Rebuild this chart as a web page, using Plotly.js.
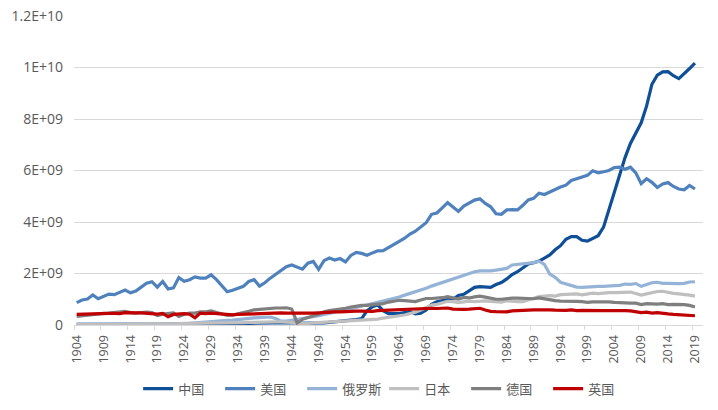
<!DOCTYPE html>
<html>
<head>
<meta charset="utf-8">
<script src="https://cdn.plot.ly/plotly-3.0.1.min.js"></script>
<style>html,body{margin:0;padding:0;background:#fff;}#chart{width:718px;height:410px;}</style>
</head>
<body>
<div id="chart"></div>
<script>
const years = [1904,1905,1906,1907,1908,1909,1910,1911,1912,1913,1914,1915,1916,1917,1918,1919,1920,1921,1922,1923,1924,1925,1926,1927,1928,1929,1930,1931,1932,1933,1934,1935,1936,1937,1938,1939,1940,1941,1942,1943,1944,1945,1946,1947,1948,1949,1950,1951,1952,1953,1954,1955,1956,1957,1958,1959,1960,1961,1962,1963,1964,1965,1966,1967,1968,1969,1970,1971,1972,1973,1974,1975,1976,1977,1978,1979,1980,1981,1982,1983,1984,1985,1986,1987,1988,1989,1990,1991,1992,1993,1994,1995,1996,1997,1998,1999,2000,2001,2002,2003,2004,2005,2006,2007,2008,2009,2010,2011,2012,2013,2014,2015,2016,2017,2018,2019];

// values in billions of tonnes (×1e9)
const china = [0.005,0.006,0.007,0.008,0.009,0.010,0.011,0.012,0.013,0.015,
0.016,0.017,0.018,0.019,0.020,0.022,0.024,0.025,0.027,0.029,
0.031,0.033,0.035,0.037,0.040,0.042,0.045,0.047,0.050,0.052,
0.055,0.060,0.065,0.070,0.075,0.080,0.090,0.100,0.100,0.100,
0.090,0.060,0.060,0.060,0.070,0.070,0.080,0.100,0.130,0.140,
0.170,0.190,0.210,0.250,0.550,0.710,0.780,0.550,0.440,0.440,
0.440,0.480,0.520,0.430,0.460,0.580,0.800,0.900,0.950,0.990,
1.000,1.150,1.190,1.320,1.460,1.490,1.470,1.460,1.570,1.650,
1.790,1.960,2.070,2.220,2.370,2.420,2.480,2.600,2.720,2.920,
3.080,3.330,3.430,3.430,3.290,3.260,3.350,3.470,3.800,4.480,
5.200,5.900,6.500,7.050,7.450,7.850,8.500,9.350,9.700,9.830,
9.840,9.680,9.570,9.750,9.960,10.170];

const usa = [0.87,0.97,1.01,1.17,1.02,1.12,1.20,1.18,1.27,1.36,
1.25,1.32,1.47,1.62,1.68,1.47,1.69,1.40,1.44,1.84,
1.70,1.76,1.87,1.82,1.82,1.95,1.76,1.52,1.29,1.35,
1.44,1.50,1.69,1.76,1.51,1.64,1.82,1.97,2.09,2.26,
2.33,2.24,2.17,2.40,2.47,2.16,2.50,2.60,2.52,2.58,
2.45,2.70,2.82,2.78,2.71,2.80,2.88,2.89,3.00,3.13,
3.25,3.37,3.53,3.64,3.80,3.97,4.30,4.35,4.55,4.75,
4.58,4.41,4.62,4.74,4.85,4.90,4.72,4.59,4.32,4.30,
4.47,4.48,4.47,4.65,4.86,4.92,5.12,5.07,5.17,5.27,
5.36,5.43,5.61,5.68,5.73,5.81,5.99,5.91,5.95,6.00,
6.11,6.13,6.05,6.13,5.91,5.49,5.68,5.54,5.34,5.48,
5.53,5.38,5.28,5.25,5.42,5.28];

const russia = [0.04,0.04,0.05,0.05,0.05,0.05,0.05,0.06,0.06,0.07,
0.07,0.07,0.07,0.05,0.02,0.02,0.02,0.03,0.03,0.04,
0.05,0.06,0.08,0.09,0.10,0.12,0.15,0.17,0.18,0.19,
0.22,0.25,0.27,0.28,0.29,0.30,0.31,0.25,0.15,0.15,
0.18,0.20,0.24,0.28,0.32,0.36,0.40,0.44,0.48,0.52,
0.57,0.63,0.68,0.73,0.78,0.83,0.88,0.91,0.96,1.03,
1.09,1.16,1.22,1.29,1.36,1.43,1.51,1.58,1.66,1.73,
1.80,1.88,1.95,2.01,2.07,2.10,2.09,2.10,2.13,2.16,
2.20,2.33,2.35,2.37,2.40,2.42,2.48,2.35,1.98,1.85,
1.66,1.60,1.56,1.47,1.46,1.48,1.49,1.50,1.50,1.53,
1.53,1.54,1.59,1.58,1.61,1.50,1.58,1.64,1.66,1.62,
1.62,1.60,1.61,1.62,1.67,1.68];

const japan = [0.02,0.02,0.02,0.03,0.03,0.03,0.03,0.03,0.04,0.04,
0.04,0.04,0.04,0.05,0.05,0.05,0.05,0.05,0.05,0.05,
0.06,0.06,0.06,0.06,0.07,0.07,0.07,0.07,0.07,0.08,
0.09,0.09,0.10,0.11,0.11,0.12,0.12,0.12,0.12,0.12,
0.10,0.05,0.04,0.06,0.08,0.09,0.10,0.11,0.12,0.13,
0.14,0.15,0.16,0.18,0.18,0.20,0.23,0.27,0.29,0.32,
0.36,0.39,0.43,0.50,0.58,0.67,0.77,0.80,0.85,0.92,
0.91,0.87,0.90,0.93,0.91,0.94,0.94,0.92,0.89,0.89,
0.94,0.91,0.91,0.91,0.99,1.04,1.10,1.12,1.14,1.12,
1.18,1.19,1.21,1.21,1.17,1.21,1.24,1.22,1.25,1.26,
1.26,1.27,1.25,1.28,1.22,1.16,1.21,1.26,1.30,1.31,
1.26,1.23,1.21,1.20,1.16,1.12];

const germany = [0.33,0.36,0.39,0.42,0.43,0.45,0.46,0.48,0.51,0.53,
0.48,0.46,0.48,0.50,0.48,0.37,0.42,0.43,0.47,0.33,
0.42,0.46,0.46,0.51,0.51,0.55,0.48,0.41,0.37,0.39,
0.43,0.48,0.53,0.59,0.61,0.64,0.65,0.66,0.66,0.67,
0.62,0.08,0.22,0.30,0.36,0.42,0.51,0.56,0.59,0.60,
0.65,0.70,0.74,0.76,0.76,0.78,0.81,0.83,0.89,0.94,
0.96,0.95,0.93,0.91,0.97,1.03,1.03,1.04,1.06,1.10,
1.07,1.01,1.07,1.05,1.09,1.12,1.08,1.04,1.00,1.00,
1.03,1.04,1.04,1.03,1.03,1.02,1.05,1.01,0.96,0.95,
0.93,0.93,0.95,0.92,0.91,0.88,0.90,0.91,0.90,0.90,
0.88,0.86,0.87,0.85,0.85,0.79,0.83,0.81,0.81,0.83,
0.79,0.80,0.80,0.79,0.76,0.70];

const uk = [0.41,0.42,0.43,0.45,0.44,0.44,0.45,0.45,0.44,0.48,
0.46,0.47,0.47,0.46,0.44,0.42,0.45,0.32,0.41,0.43,
0.44,0.42,0.28,0.46,0.44,0.46,0.44,0.41,0.39,0.39,
0.41,0.42,0.43,0.45,0.43,0.45,0.47,0.47,0.47,0.46,
0.46,0.43,0.44,0.44,0.46,0.47,0.49,0.51,0.51,0.51,
0.53,0.54,0.54,0.54,0.53,0.53,0.56,0.57,0.58,0.59,
0.60,0.61,0.61,0.60,0.62,0.64,0.65,0.64,0.64,0.66,
0.62,0.60,0.61,0.62,0.62,0.65,0.58,0.53,0.52,0.52,
0.51,0.55,0.57,0.57,0.58,0.59,0.60,0.61,0.59,0.58,
0.57,0.57,0.59,0.56,0.57,0.56,0.56,0.57,0.56,0.56,
0.57,0.56,0.56,0.55,0.53,0.48,0.50,0.46,0.48,0.47,
0.43,0.41,0.39,0.38,0.37,0.36];

const seriesNames = ['中国','美国','俄罗斯','日本','德国','英国'];
const seriesColors = ['#0f4f98','#4f81bd','#95b3d7','#bfbfbf','#7f7f7f','#c00000'];
const seriesData = [china, usa, russia, japan, germany, uk];

const yTickVals = [0, 2e9, 4e9, 6e9, 8e9, 1e10, 1.2e10];
const yTickText = ['0','2E+09','4E+09','6E+09','8E+09','1E+10','1.2E+10'];
const xTickVals = [1904,1909,1914,1919,1924,1929,1934,1939,1944,1949,1954,1959,1964,1969,1974,1979,1984,1989,1994,1999,2004,2009,2014,2019];

const FONT = '"Segoe UI", "Open Sans", "Noto Sans CJK SC", sans-serif';

const traces = seriesData.map((arr, i) => ({
  type: 'scatter',
  mode: 'lines',
  name: seriesNames[i],
  x: years,
  y: arr.map(v => v * 1e9),
  line: {color: seriesColors[i], width: 3.2},
  hoverinfo: 'skip'
}));

const layout = {
  width: 718,
  height: 410,
  margin: {l: 74, r: 15, t: 16, b: 85, pad: 0},
  paper_bgcolor: '#ffffff',
  plot_bgcolor: '#ffffff',
  font: {family: FONT, size: 13, color: '#595959'},
  showlegend: true,
  legend: {
    orientation: 'h',
    xref: 'container', yref: 'container',
    x: 0.535, xanchor: 'center',
    y: 0.052, yanchor: 'middle',
    font: {family: '"Noto Sans CJK SC", sans-serif', size: 13, color: '#595959'},
    entrywidth: 37,
    entrywidthmode: 'pixels',
    itemwidth: 30,
    traceorder: 'normal'
  },
  xaxis: {
    range: [1903.5, 2020.5],
    tickmode: 'array',
    tickvals: xTickVals,
    ticktext: xTickVals.map(String),
    tickangle: -90,
    ticks: '',
    ticklabelstandoff: 4,
    tickfont: {family: FONT, size: 12.5, color: '#595959'},
    showgrid: false,
    zeroline: false,
    showline: true,
    linecolor: '#d9d9d9',
    linewidth: 1,
    minor: {tick0: 1903.5, dtick: 5, ticks: 'outside', ticklen: 4, tickcolor: '#d9d9d9', showgrid: false}
  },
  yaxis: {
    range: [0, 1.2e10],
    tickmode: 'array',
    tickvals: yTickVals,
    ticktext: yTickText,
    ticks: '',
    ticklabelstandoff: 10,
    tickfont: {family: FONT, size: 14, color: '#595959'},
    showgrid: true,
    gridcolor: '#d9d9d9',
    gridwidth: 1,
    zeroline: false,
    showline: false
  }
};

Plotly.newPlot('chart', traces, layout, {staticPlot: true, displayModeBar: false});
</script>
</body>
</html>
